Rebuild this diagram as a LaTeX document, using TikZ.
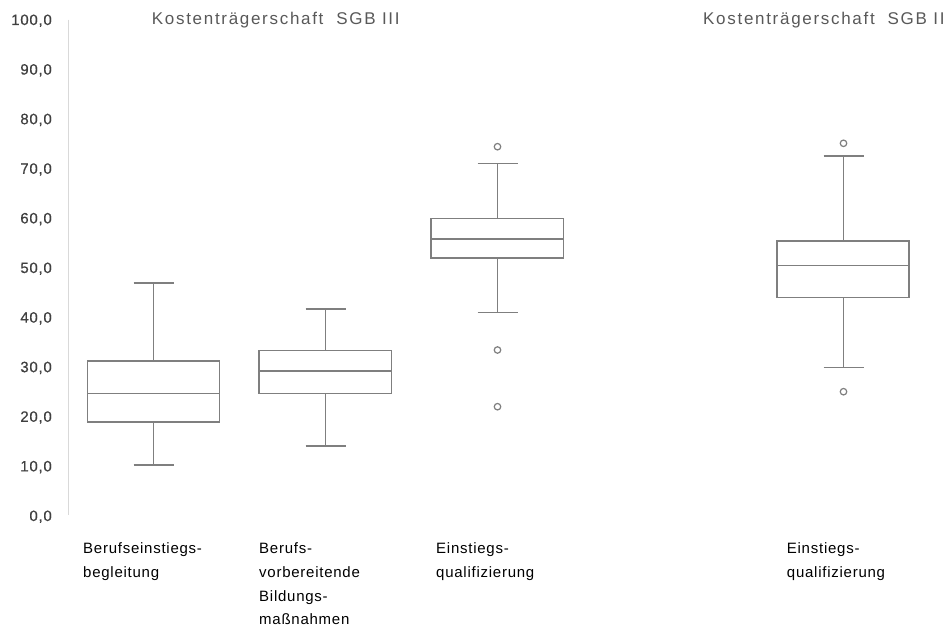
\documentclass[tikz,border=0pt]{standalone}
\usepackage{fontspec}
\setmainfont{Liberation Sans}
\newfontfamily\titlefont{Liberation Sans}[LetterSpace=10]
\newfontfamily\catfont{Liberation Sans}[LetterSpace=5]
\newfontfamily\tickfont{Liberation Sans}[LetterSpace=5, FakeBold=0.5]

\definecolor{boxgray}{HTML}{7F7F7F}
\definecolor{axisgray}{HTML}{D9D9D9}
\definecolor{titlegray}{HTML}{595959}
\definecolor{tickgray}{HTML}{404040}

\tikzset{
  boxline/.style={draw=boxgray, line width=1.5pt},
  outlier/.style={circle, draw=boxgray, line width=1.2pt, minimum size=6.5pt, inner sep=0pt},
  ticklabel/.style={anchor=east, inner sep=0pt, text=tickgray, font=\tickfont\fontsize{15}{18}\selectfont},
  charttitle/.style={anchor=base west, inner sep=0pt, text=titlegray, font=\titlefont\fontsize{17}{20}\selectfont},
  catlabel/.style={anchor=north west, inner sep=0pt, align=left, text=black, font=\catfont\fontsize{15}{23.8}\selectfont}
}

% box plot: #1 centre x, #2 left, #3 right, #4 upper whisker, #5 Q3, #6 median, #7 Q1, #8 lower whisker
\newcommand\whiskerbox[8]{%
  \draw[boxline] (#2,#5) rectangle (#3,#7);
  \draw[boxline] (#2,#6) -- (#3,#6);
  \draw[boxline] (#1,#5) -- (#1,#4);
  \draw[boxline] ({#1-20},#4) -- ({#1+20},#4);
  \draw[boxline] (#1,#7) -- (#1,#8);
  \draw[boxline] ({#1-20},#8) -- ({#1+20},#8);
}

\begin{document}
\begin{tikzpicture}[x=1pt,y=-1pt]
  \fill[white] (0,0) rectangle (950,629);
  \useasboundingbox (0,0) rectangle (950,629);

  % value axis
  \draw[axisgray, line width=1pt] (68.3,19.5) -- (68.3,515);
  \foreach \v in {0,10,...,100}
    \node[ticklabel] (tick\v) at (52,{516.7-4.96*\v}) {\v,0};

  % titles
  \node[charttitle] (titleIII) at (151.7,24) {Kostenträgerschaft\ \ SGB III};
  \node[charttitle] (titleII) at (703,24) {Kostenträgerschaft\ \ SGB II};

  % boxes
  \whiskerbox{153.5}{87.5}{219.5}{283}{361}{393.5}{422}{465}
  \whiskerbox{325.5}{259}{391.5}{309}{350.5}{371}{393.5}{446}
  \whiskerbox{497.5}{431}{563.5}{163.5}{218.5}{239}{258}{312.5}
  \whiskerbox{843.5}{777}{909}{156}{241}{265.7}{297.3}{367.3}

  % outliers
  \node[outlier] (o31) at (497.5,146.7) {};
  \node[outlier] (o32) at (497.5,350) {};
  \node[outlier] (o33) at (497.5,406.7) {};
  \node[outlier] (o41) at (843.5,143.3) {};
  \node[outlier] (o42) at (843.5,391.7) {};

  % category labels
  \node[catlabel] (cat1) at (83,542.5) {Berufseinstiegs-\\begleitung};
  \node[catlabel] (cat2) at (259,542.5) {Berufs-\\vorbereitende\\Bildungs-\\maßnahmen};
  \node[catlabel] (cat3) at (436,542.5) {Einstiegs-\\qualifizierung};
  \node[catlabel] (cat4) at (786.7,542.5) {Einstiegs-\\qualifizierung};
\end{tikzpicture}
\end{document}
